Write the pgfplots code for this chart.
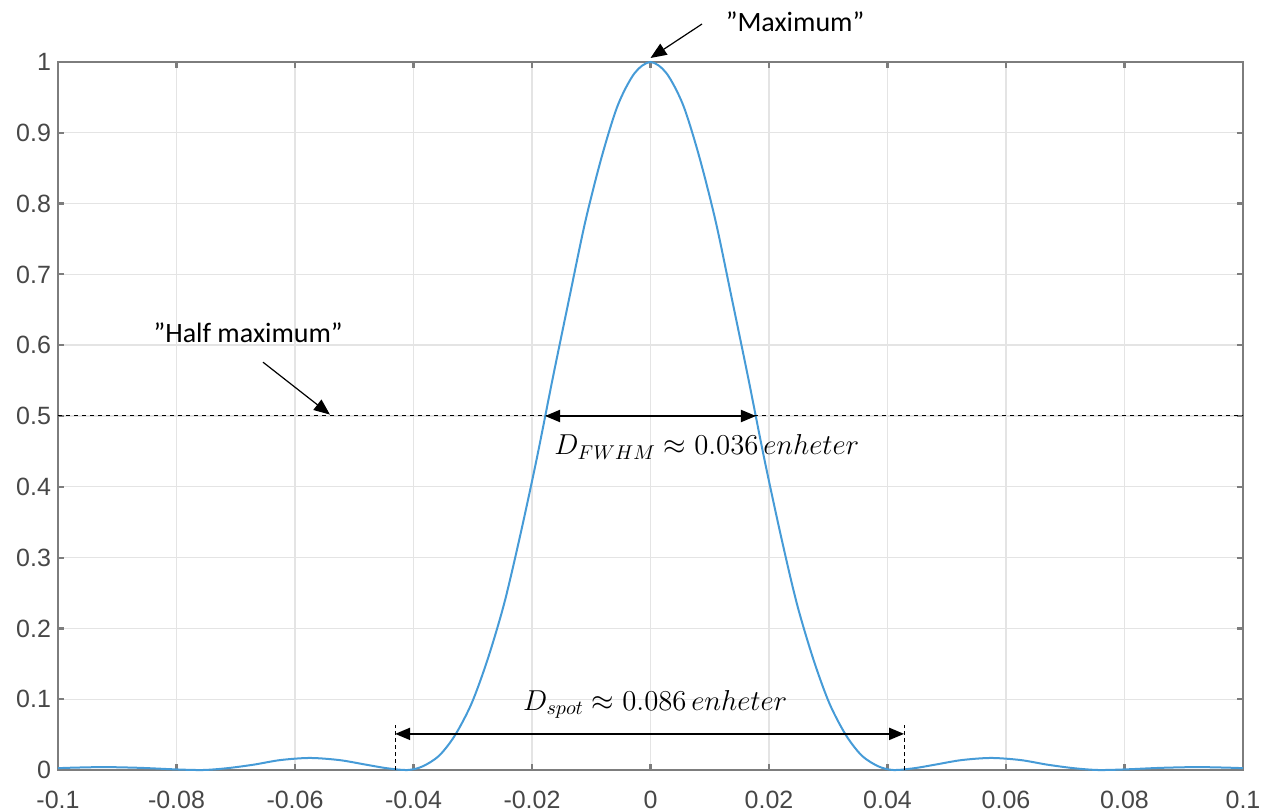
\documentclass[border=0pt]{standalone}
\usepackage{fontspec}
\setmainfont{Carlito}
\newfontfamily\tickfont{Liberation Sans}
\usepackage{pgfplots}
\pgfplotsset{compat=1.18}
\usetikzlibrary{arrows.meta}
\definecolor{matblue}{RGB}{70,155,215}
\definecolor{axgray}{RGB}{125,125,125}
\definecolor{gridgray}{RGB}{228,228,228}

\begin{document}
\begin{tikzpicture}
\begin{axis}[
    scale only axis,
    width=592.5pt, height=354pt,
    xmin=-0.1, xmax=0.1, ymin=0, ymax=1,
    clip=false,
    xtick={-0.1,-0.08,-0.06,-0.04,-0.02,0,0.02,0.04,0.06,0.08,0.1},
    xticklabels={-0.1,-0.08,-0.06,-0.04,-0.02,0,0.02,0.04,0.06,0.08,0.1},
    ytick={0,0.1,0.2,0.3,0.4,0.5,0.6,0.7,0.8,0.9,1},
    yticklabels={0,0.1,0.2,0.3,0.4,0.5,0.6,0.7,0.8,0.9,1},
    /pgf/number format/assume math mode=true,
    ticklabel style={font=\tickfont\fontsize{12.5}{14}\selectfont, text=black!72},
    xticklabel style={yshift=-7pt},
    grid=major,
    major grid style={gridgray, line width=0.7pt},
    axis line style={axgray, line width=1.1pt},
    tick style={axgray, line width=1.1pt},
    tick align=inside, major tick length=3pt,
]
% intensitetsprofil
\addplot[matblue, line width=1pt, smooth] coordinates {
    (-0.1,0.0026) (-0.097,0.0034) (-0.092,0.0041) (-0.086,0.0030)
    (-0.080,0.0008) (-0.0755,0) (-0.0715,0.0025) (-0.067,0.0075)
    (-0.0625,0.0140) (-0.0575,0.0170) (-0.0525,0.0140) (-0.048,0.0075)
    (-0.0445,0.0025) (-0.041,0)
    (-0.0385,0.0050) (-0.0357,0.0200) (-0.0330,0.0490)
    (-0.0302,0.0940) (-0.0275,0.1560) (-0.0247,0.2350) (-0.0220,0.3310)
    (-0.0192,0.4397) (-0.0165,0.5534) (-0.0137,0.6669) (-0.0110,0.7748)
    (-0.0082,0.8671) (-0.0055,0.9393) (-0.0027,0.9841) (0,1)
    (0.0027,0.9841) (0.0055,0.9393) (0.0082,0.8671) (0.0110,0.7748)
    (0.0137,0.6669) (0.0165,0.5534) (0.0192,0.4397) (0.0220,0.3310)
    (0.0247,0.2350) (0.0275,0.1560) (0.0302,0.0940) (0.0330,0.0490)
    (0.0357,0.0200) (0.0385,0.0050) (0.041,0)
    (0.0445,0.0025) (0.048,0.0075) (0.0525,0.0140) (0.0575,0.0170)
    (0.0625,0.0140) (0.067,0.0075) (0.0715,0.0025) (0.0755,0)
    (0.080,0.0008) (0.086,0.0030) (0.092,0.0041) (0.097,0.0034)
    (0.1,0.0026)
};

% halv maksimum
\draw[black, line width=0.5pt, dash pattern=on 2pt off 2pt]
    (axis cs:-0.1,0.5) -- (axis cs:0.1,0.5);
\draw[black, line width=1pt, {Triangle[length=7.5pt,width=6pt]}-{Triangle[length=7.5pt,width=6pt]}]
    (axis cs:-0.0178,0.5) -- (axis cs:0.0178,0.5);
\node[font=\fontsize{14}{16}\selectfont] at (axis cs:0.0095,0.456)
    {$D_{FWHM} \approx 0.036\,enheter$};

% spot
\draw[black, line width=0.5pt, dash pattern=on 2pt off 1.5pt]
    (axis cs:-0.0431,0) -- (axis cs:-0.0431,0.064);
\draw[black, line width=0.5pt, dash pattern=on 2pt off 1.5pt]
    (axis cs:0.0428,0) -- (axis cs:0.0428,0.064);
\draw[black, line width=1pt, {Triangle[length=7.5pt,width=6pt]}-{Triangle[length=7.5pt,width=6pt]}]
    (axis cs:-0.0431,0.051) -- (axis cs:0.0428,0.051);
\node[font=\fontsize{14}{16}\selectfont] at (axis cs:0.0008,0.093)
    {$D_{spot} \approx 0.086\,enheter$};

% merknader
\node[font=\fontsize{14}{16}\selectfont] at (axis cs:-0.0679,0.617) {”Half maximum”};
\draw[black, line width=0.6pt, -{Triangle[length=8pt,width=6.5pt]}]
    (axis cs:-0.0654,0.576) -- (axis cs:-0.0541,0.502);
\node[font=\fontsize{14}{16}\selectfont] at ([yshift=20pt]axis cs:0.0244,1) {”Maximum”};
\draw[black, line width=0.6pt, -{Triangle[length=8pt,width=6.5pt]}]
    ([yshift=19pt]axis cs:0.0087,1) -- ([yshift=2pt]axis cs:0,1);

\coordinate (bl) at (rel axis cs:0,0);
\coordinate (tr) at (rel axis cs:1,1);
\end{axis}
\pgfresetboundingbox
\path ([xshift=-29pt,yshift=-19.5pt]bl) rectangle ([xshift=15.5pt,yshift=31pt]tr);
\end{tikzpicture}
\end{document}
